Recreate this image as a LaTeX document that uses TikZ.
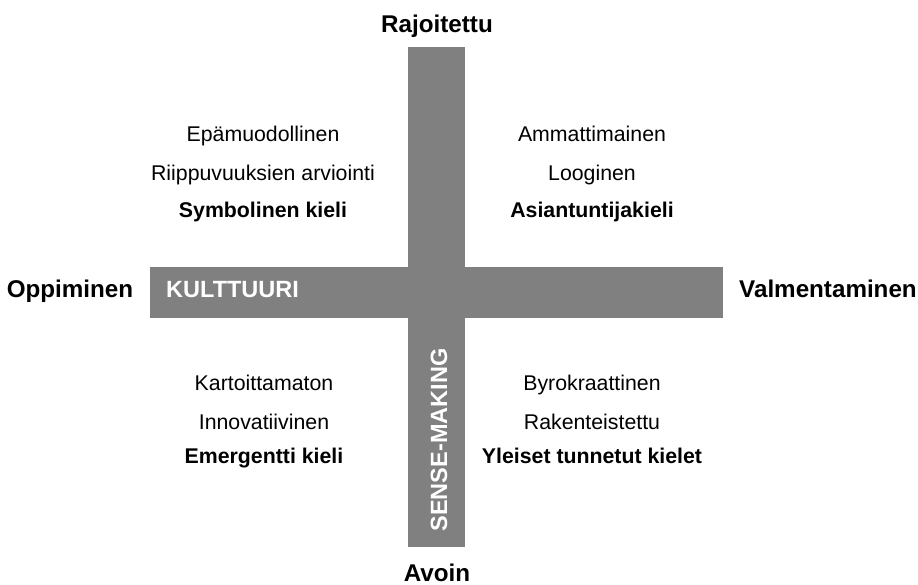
\documentclass[tikz,border=0pt]{standalone}
\usepackage{fontspec}
\setmainfont{Liberation Sans}
\usepackage{tikz}
\usetikzlibrary{positioning}
\definecolor{bargray}{HTML}{808080}
\tikzset{
  bar/.style    ={fill=bargray, draw=none},
  axislbl/.style={font=\fontsize{24.2}{29}\selectfont\bfseries, inner sep=0pt},
  barlbl/.style ={font=\fontsize{23.5}{28}\selectfont\bfseries, text=white,
                  inner sep=0pt},
  qtxt/.style   ={font=\fontsize{21.3}{25}\selectfont, inner sep=0pt, anchor=base},
  qkey/.style   ={font=\fontsize{21.3}{25}\selectfont\bfseries, inner sep=0pt,
                  anchor=base},
}

\begin{document}
\begin{tikzpicture}[x=1pt, y=-1pt]
  \useasboundingbox (0,0) rectangle (918,585);
  % the cross
  \fill[bar] (408,47) rectangle (465,547);
  \fill[bar] (150,267) rectangle (723,318);
  \node[barlbl, anchor=base west] (kult) at (166,298) {KULTTUURI};
  \node[barlbl, anchor=base, rotate=90] (sense) at (447,440) {SENSE-MAKING};
  % axis ends
  \node[axislbl, anchor=base] (raj) at (437,33) {Rajoitettu};
  \node[axislbl, anchor=base] (avo) at (437,581) {Avoin};
  \node[axislbl, anchor=base] (opp) at (70,298) {Oppiminen};
  \node[axislbl, anchor=base] (val) at (828,298) {Valmentaminen};
  % upper left
  \node[qtxt] (ul1) at (263,142) {Epämuodollinen};
  \node[qtxt] (ul2) at (263,181) {Riippuvuuksien arviointi};
  \node[qkey] (ul3) at (263,218) {Symbolinen kieli};
  % upper right
  \node[qtxt] (ur1) at (592,142) {Ammattimainen};
  \node[qtxt] (ur2) at (592,181) {Looginen};
  \node[qkey] (ur3) at (592,218) {Asiantuntijakieli};
  % lower left
  \node[qtxt] (ll1) at (264,390) {Kartoittamaton};
  \node[qtxt] (ll2) at (264,429) {Innovatiivinen};
  \node[qkey] (ll3) at (264,463) {Emergentti kieli};
  % lower right
  \node[qtxt] (lr1) at (592,390) {Byrokraattinen};
  \node[qtxt] (lr2) at (592,429) {Rakenteistettu};
  \node[qkey] (lr3) at (592,463) {Yleiset tunnetut kielet};
\end{tikzpicture}
\end{document}
